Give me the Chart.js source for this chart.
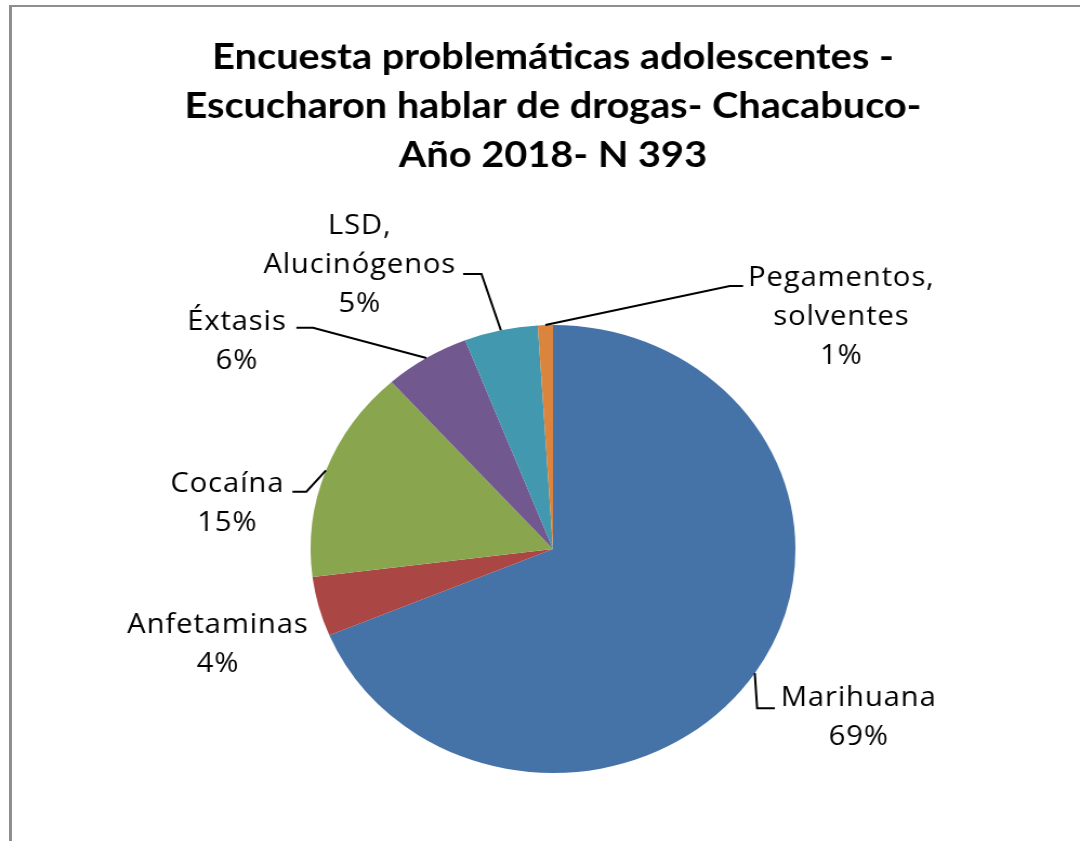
<!DOCTYPE html>
<html lang="es">
<head>
<meta charset="UTF-8">
<title>Encuesta problemáticas adolescentes</title>
<script src="https://cdn.jsdelivr.net/npm/chart.js"></script>
<style>
  html, body { margin: 0; padding: 0; background: #fff; }
  #wrap { position: relative; width: 1080px; height: 841px; overflow: hidden; }
  #frame { position: absolute; left: 9px; top: 5px; right: -10px; bottom: -10px;
           border-left: 3px solid #8e8e8e; border-top: 2px solid #8e8e8e; }
  #chart { position: absolute; left: 0; top: 0; }
</style>
</head>
<body>
<div id="wrap">
  <div id="frame"></div>
  <!-- the original picture is stretched sideways, so the canvas is too -->
  <canvas id="chart" width="998" height="841" style="width:1080px;height:841px"></canvas>
</div>
<script>
const titleLines = [
  'Encuesta problemáticas adolescentes -',
  'Escucharon hablar de drogas- Chacabuco-',
  'Año 2018- N 393'
];
const categories = ['Marihuana', 'Anfetaminas', 'Cocaína', 'Éxtasis', 'LSD, Alucinógenos', 'Pegamentos, solventes'];
const percentages = [68.7, 4.3, 15.4, 5.7, 4.9, 1.0];
const sliceColors = ['#4572A7', '#AA4643', '#89A54E', '#71588F', '#4198AF', '#DB843D'];

// label layout, relative to the slice edge at its mid angle
const labelText = [[96, 25.5], [-93.2, 18.6], [-91.1, 13.7], [-175.1, -36], [-130.4, -103.9], [273.5, -46.8]];
const leaderElbow = [[2.2, 35.1], null, [-18.1, 21.2], [-104.7, -30.3], [-17.9, -56.2], [170.4, -39.1]];
const leaderTail = [16.4, 0, -12.9, -15.4, -17, 12.3];
const lineStep = 39;

const pieLabels = {
  id: 'pieLabels',
  afterDatasetsDraw(chart) {
    const ctx = chart.ctx;
    const meta = chart.getDatasetMeta(0);
    const total = percentages.reduce((a, b) => a + b, 0);
    ctx.save();
    ctx.font = '27px "Open Sans"';
    ctx.letterSpacing = '0.8px';
    ctx.fillStyle = '#000';
    ctx.strokeStyle = '#000';
    ctx.lineWidth = 2;
    ctx.textAlign = 'center';
    ctx.textBaseline = 'middle';
    meta.data.forEach((arc, i) => {
      const { x, y, startAngle, endAngle, outerRadius } =
        arc.getProps(['x', 'y', 'startAngle', 'endAngle', 'outerRadius'], true);
      const mid = (startAngle + endAngle) / 2;
      const px = x + Math.cos(mid) * outerRadius;
      const py = y + Math.sin(mid) * outerRadius;
      if (leaderElbow[i]) {
        const ex = px + leaderElbow[i][0];
        const ey = py + leaderElbow[i][1];
        ctx.beginPath();
        ctx.moveTo(px, py);
        ctx.lineTo(ex, ey);
        ctx.lineTo(ex + leaderTail[i], ey);
        ctx.stroke();
      }
      const lines = categories[i].split(/(?<=,) /);
      lines.push(Math.round(percentages[i] / total * 100) + '%');
      lines.forEach((t, k) => {
        ctx.fillText(t, px + labelText[i][0], py + labelText[i][1] + k * lineStep);
      });
    });
    ctx.restore();
  }
};

new Chart(document.getElementById('chart'), {
  type: 'pie',
  data: {
    labels: categories,
    datasets: [{
      data: percentages,
      backgroundColor: sliceColors,
      borderWidth: 0
    }]
  },
  options: {
    responsive: false,
    devicePixelRatio: 1,
    animation: false,
    layout: { padding: { left: 24, right: 0, top: 0, bottom: 68 } },
    plugins: {
      legend: { display: false },
      tooltip: { enabled: false },
      title: {
        display: true,
        text: titleLines,
        color: '#000',
        font: { family: 'Lato', size: 36.7, weight: 'bold', lineHeight: 1.335 },
        padding: { top: 32.5, bottom: 145.5 }
      }
    }
  },
  plugins: [pieLabels]
});
</script>
</body>
</html>
